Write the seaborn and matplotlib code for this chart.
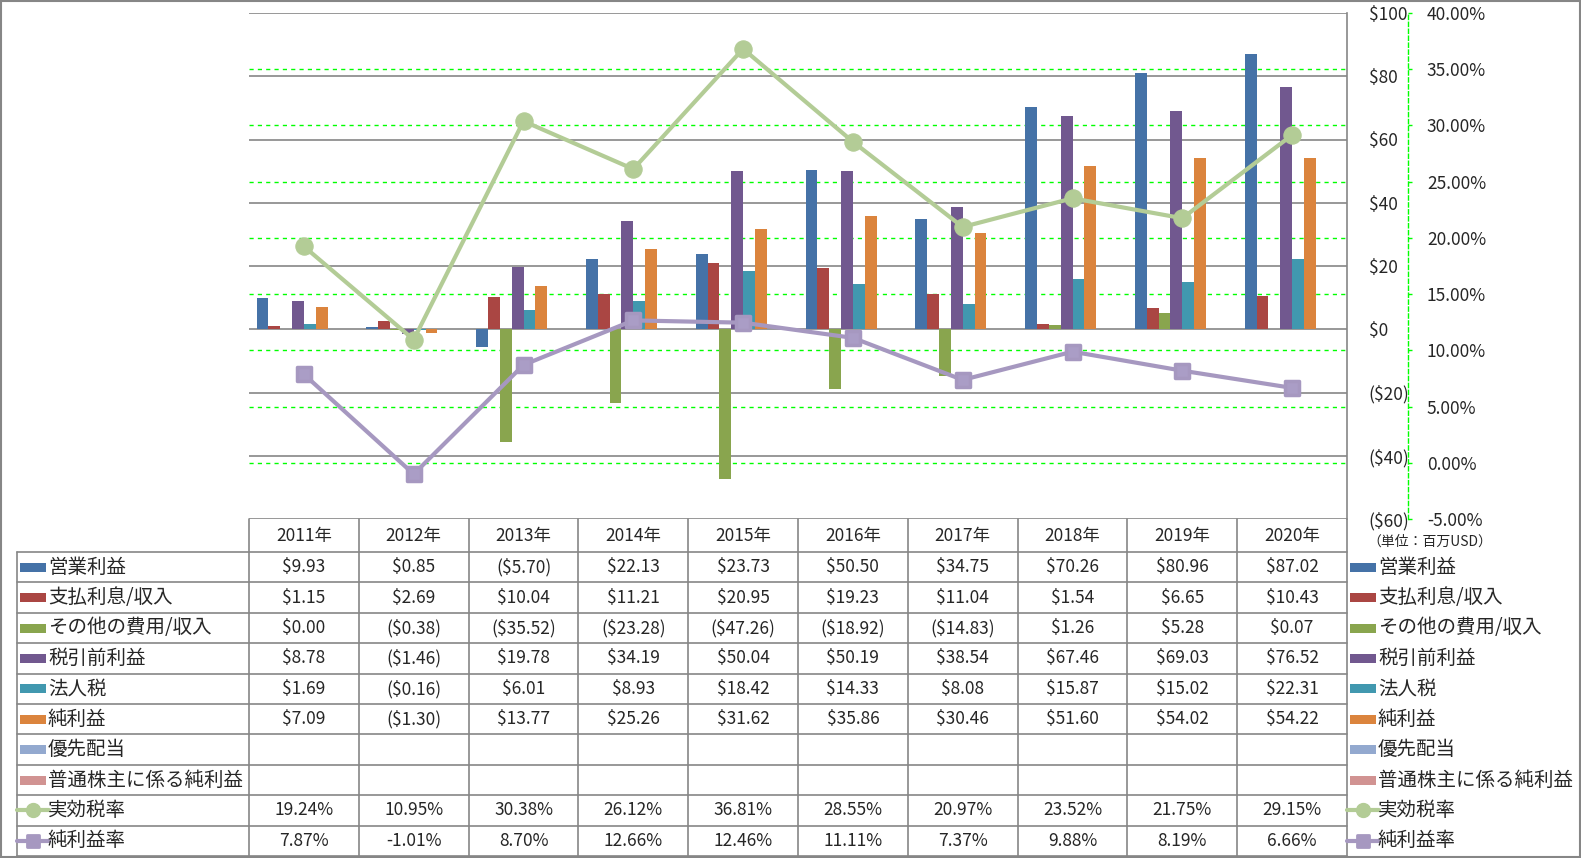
import matplotlib
matplotlib.use('Agg')
import numpy as np
import pandas as pd
import matplotlib.pyplot as plt
import matplotlib.transforms as mtransforms
from matplotlib.markers import MarkerStyle
from matplotlib.patches import Rectangle
import seaborn as sns

# data (単位: 百万USD / %)
years = ['2011年', '2012年', '2013年', '2014年', '2015年',
         '2016年', '2017年', '2018年', '2019年', '2020年']
operating_income = [9.93, 0.85, -5.70, 22.13, 23.73, 50.50, 34.75, 70.26, 80.96, 87.02]
interest = [1.15, 2.69, 10.04, 11.21, 20.95, 19.23, 11.04, 1.54, 6.65, 10.43]
other_expense = [0.00, -0.38, -35.52, -23.28, -47.26, -18.92, -14.83, 1.26, 5.28, 0.07]
pretax_income = [8.78, -1.46, 19.78, 34.19, 50.04, 50.19, 38.54, 67.46, 69.03, 76.52]
income_tax = [1.69, -0.16, 6.01, 8.93, 18.42, 14.33, 8.08, 15.87, 15.02, 22.31]
net_income = [7.09, -1.30, 13.77, 25.26, 31.62, 35.86, 30.46, 51.60, 54.02, 54.22]
preferred_div = [None] * 10
common_net_income = [None] * 10
tax_rate = [19.24, 10.95, 30.38, 26.12, 36.81, 28.55, 20.97, 23.52, 21.75, 29.15]
net_margin = [7.87, -1.01, 8.70, 12.66, 12.46, 11.11, 7.37, 9.88, 8.19, 6.66]

bar_names = ['営業利益', '支払利息/収入', 'その他の費用/収入', '税引前利益',
             '法人税', '純利益', '優先配当', '普通株主に係る純利益']
bar_values = [operating_income, interest, other_expense, pretax_income,
              income_tax, net_income, preferred_div, common_net_income]
bar_colors = ['#4572A7', '#AA4643', '#89A54E', '#71588F',
              '#4198AF', '#DB843D', '#93A9CF', '#D19392']
line_names = ['実効税率', '純利益率']
line_values = [tax_rate, net_margin]
line_colors = ['#B3CC96', '#A698C0']

rows = []
for name, vals in zip(bar_names, bar_values):
    for yr, v in zip(years, vals):
        if v is not None:
            rows.append({'year': yr, 'series': name, 'value': v})
df = pd.DataFrame(rows)

sns.set_style('white')
plt.rcParams['font.family'] = ['Noto Sans CJK JP', 'DejaVu Sans']

W, H = 1581, 858
GRAY = '#868686'
GREEN = '#00FF00'
RED = '#FF0000'

fig = plt.figure(figsize=(W / 100, H / 100), dpi=100)
ax = fig.add_axes([249 / W, 1 - 519 / H, (1347 - 249) / W, (519 - 13) / H])

sns.barplot(data=df, x='year', y='value', hue='series', hue_order=bar_names,
            order=years, palette=dict(zip(bar_names, bar_colors)), saturation=1,
            width=0.86, errorbar=None, legend=False, linewidth=0, ax=ax)

ax2 = ax.twinx()
square = MarkerStyle('s', joinstyle='round')
sns.lineplot(x=np.arange(len(years)), y=tax_rate, ax=ax2, color=line_colors[0],
             linewidth=3, marker='o', markersize=12.5, markeredgecolor=line_colors[0],
             legend=False)
sns.lineplot(x=np.arange(len(years)), y=net_margin, ax=ax2, color=line_colors[1],
             linewidth=3, marker=square, markersize=10.5, markeredgewidth=2.5,
             markeredgecolor=line_colors[1], markerfacecolor='#AA9DC6', legend=False)

# primary axis
ax.set_xlim(-0.5, len(years) - 0.5)
ax.set_ylim(-60, 100)
pticks = list(range(-60, 101, 20))
ax.set_yticks(pticks)
ax.set_yticklabels([f'${v}' if v >= 0 else f'(${-v})' for v in pticks])
for lab, v in zip(ax.get_yticklabels(), pticks):
    lab.set_color(RED if v < 0 else 'black')
ax.tick_params(axis='y', left=False, right=False, labelleft=False, labelright=True,
               pad=12, labelsize=12.5)
ax.tick_params(axis='x', bottom=False, labelbottom=False)
ax.set_xlabel('')
ax.set_ylabel('')
ax.set_axisbelow(True)
ax.yaxis.grid(True, color=GRAY, linewidth=1.2)
for s in ['left', 'top', 'bottom']:
    ax.spines[s].set_visible(False)
ax.spines['right'].set_color(GRAY)
ax.spines['right'].set_linewidth(1.2)

# secondary axis
ax2.set_ylim(-5, 40)
sticks = list(range(-5, 41, 5))
ax2.set_yticks(sticks)
ax2.set_yticklabels([f'{v:.2f}%' for v in sticks])
for lab, v in zip(ax2.get_yticklabels(), sticks):
    lab.set_color(RED if v < 0 else 'black')
ax2.tick_params(axis='y', direction='out', length=3, width=1, color=GREEN,
                pad=10.5, labelsize=12.5)
ax2.set_ylabel('')
for s in ['left', 'top', 'bottom']:
    ax2.spines[s].set_visible(False)
ax2.spines['right'].set_position(('outward', 44))
ax2.spines['right'].set_color(GREEN)
ax2.spines['right'].set_linestyle((0, (3, 2)))
ax2.spines['right'].set_linewidth(1)

# green dashed gridlines for the secondary ticks, drawn behind the bars
for t in sticks[1:-1]:
    yp = -60 + (t + 5) / 45 * 160
    ax.axhline(yp, color=GREEN, linewidth=1, linestyle=(0, (3, 3)), zorder=0.6)

# data table
tab = fig.add_axes([0, 0, 1, 1])
tab.set_xlim(0, W)
tab.set_ylim(H, 0)
tab.axis('off')
bt = mtransforms.blended_transform_factory(ax.transData, tab.transData)

head_top, head_bot = 519, 552
row_h = 30.4
n_rows = len(bar_names) + len(line_names)
table_bot = head_bot + n_rows * row_h

for k in range(n_rows + 1):
    y = head_bot + k * row_h
    tab.plot([17, 1347], [y, y], color=GRAY, lw=1.2)
tab.plot([17, 17], [head_bot, table_bot], color=GRAY, lw=1.2)
for i in range(len(years) + 1):
    tab.plot([i - 0.5, i - 0.5], [head_top, table_bot], color=GRAY, lw=1.2, transform=bt)

for i, yr in enumerate(years):
    tab.text(i, (head_top + head_bot) / 2, yr, transform=bt, ha='center', va='center',
             fontsize=12.5)


def money(v):
    return f'${v:.2f}' if v >= 0 else f'(${-v:.2f})'


for k, (name, vals, color) in enumerate(zip(bar_names, bar_values, bar_colors)):
    cy = head_bot + (k + 0.5) * row_h
    for x0 in (20, 1350):
        tab.add_patch(Rectangle((x0, cy - 4.5), 26, 9, color=color, lw=0))
        tab.text(x0 + 28, cy, name, ha='left', va='center', fontsize=14)
    for i, v in enumerate(vals):
        if v is not None:
            tab.text(i, cy, money(v), transform=bt, ha='center', va='center',
                     fontsize=12.5)

for j, (name, vals, color) in enumerate(zip(line_names, line_values, line_colors)):
    cy = head_bot + (len(bar_names) + j + 0.5) * row_h
    for x0 in (20, 1350):
        tab.plot([x0 - 3, x0 + 29], [cy, cy], color=color, lw=3)
        if j == 0:
            tab.plot([x0 + 13], [cy], marker='o', ms=10, color=color)
        else:
            tab.plot([x0 + 13], [cy], marker=square, ms=8, mew=2, color=color)
        tab.text(x0 + 28, cy, name, ha='left', va='center', fontsize=14)
    for i, v in enumerate(vals):
        tab.text(i, cy, f'{v:.2f}%', transform=bt, ha='center', va='center',
                 fontsize=12.5)

tab.text(1367, 542, '（単位：百万USD）', ha='left', va='center', fontsize=10)

# outer border
tab.add_patch(Rectangle((0.8, 0.8), W - 1.8, H - 1.8, fill=False, ec=GRAY, lw=1.5))

plt.savefig('out.png', dpi=100)
plt.close()
